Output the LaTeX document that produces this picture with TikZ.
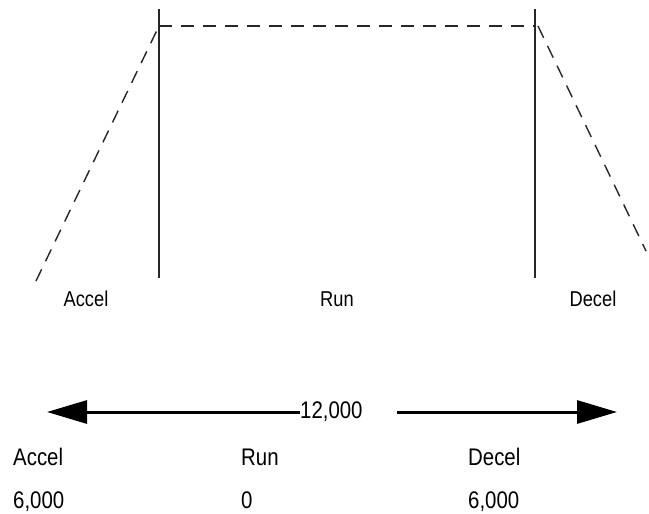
\documentclass[tikz,border=0pt]{standalone}
\usepackage{fontspec}
\setmainfont{Liberation Sans}[FakeStretch=0.85]
\usepackage{tikz}
\usetikzlibrary{positioning,arrows.meta}

\begin{document}
\begin{tikzpicture}[
  x=1pt,y=-1pt,
  bar/.style={line width=1.4pt,black!85},
  ramp/.style={line width=1.4pt,black!85,dash pattern=on 13pt off 9pt},
  lbl/.style={inner sep=0pt,anchor=base,font=\fontsize{21.5}{24}\selectfont},
  tbl/.style={inner sep=0pt,anchor=base west,font=\fontsize{24}{28}\selectfont},
  a/.style={-{Triangle[length=40pt,width=23pt]},line width=3pt}
]
\useasboundingbox (0,0) rectangle (649,514);
% profile
\coordinate (runL) at (159,26);
\coordinate (runR) at (535,26);
\coordinate (accS) at (36,281);
\coordinate (decS) at (538,26);
\coordinate (decE) at (646,251);
\draw[bar] (159,9) coordinate (lt) -- (159,278) coordinate (lb);
\draw[bar] (535,9) coordinate (rt) -- (535,278) coordinate (rb);
\draw[ramp] (runL) -- (runR);
\draw[ramp] (accS) -- (runL);
\draw[ramp] (decS) -- (decE);
\node[lbl] (accel) at (86,306) {Accel};
\node[lbl] (run) at (337,306) {Run};
\node[lbl] (decel) at (593,306) {Decel};
% total distance
\node[inner sep=0pt,anchor=west,font=\fontsize{24}{28}\selectfont] (total) at (300,412) {12,000};
\coordinate (ltip) at (47,412);
\coordinate (rstart) at (397,412);
\coordinate (rtip) at (617,412);
\draw[a] (total.west) -- (ltip);
\draw[a] (rstart) -- (rtip);
% table
\node[tbl] (accT) at (13,465) {Accel};
\node[tbl] (runT) at (241,465) {Run};
\node[tbl] (decT) at (468,465) {Decel};
\node[tbl] (accV) at (13,508.5) {6,000};
\node[tbl] (runV) at (241,508.5) {0};
\node[tbl] (decV) at (468,508.5) {6,000};
\end{tikzpicture}
\end{document}
